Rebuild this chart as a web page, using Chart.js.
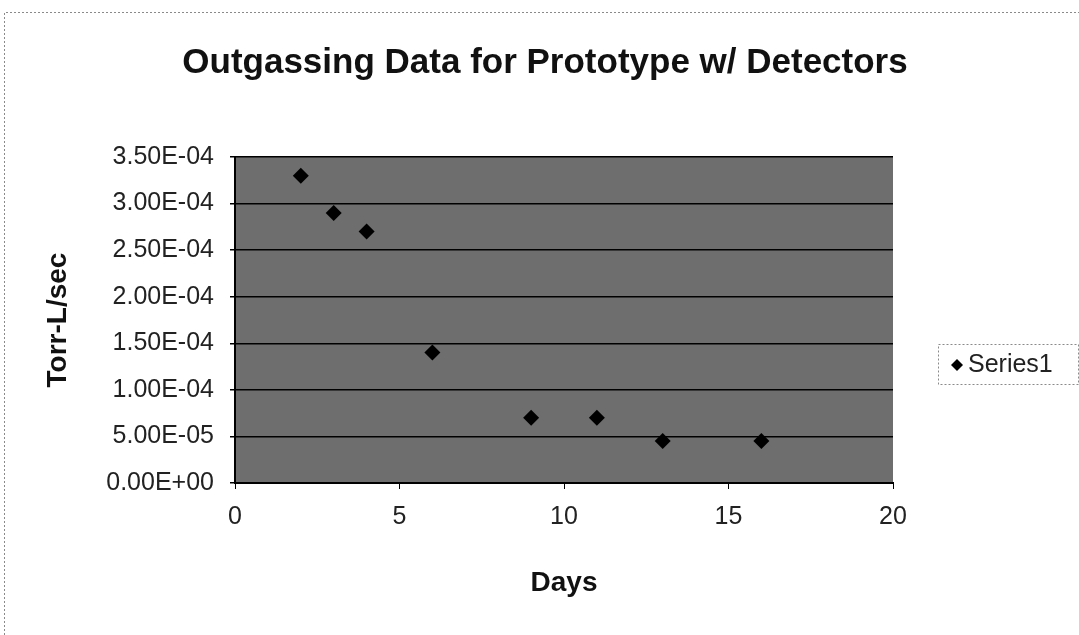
<!DOCTYPE html>
<html>
<head>
<meta charset="utf-8">
<script src="https://cdn.jsdelivr.net/npm/chart.js@4.4.1/dist/chart.umd.min.js"></script>
<style>
  html, body { margin: 0; padding: 0; background: #fff; }
  #wrap { width: 1079px; height: 635px; position: relative; }
  canvas { display: block; }
</style>
</head>
<body>
<div id="wrap"><canvas id="c" width="1079" height="635"></canvas></div>
<script>
// ---- data ----
const chartTitle = "Outgassing Data for Prototype w/ Detectors";
const seriesName = "Series1";
const days = [2, 3, 4, 6, 9, 11, 13, 16];
const torrLperSec = [3.3e-4, 2.9e-4, 2.7e-4, 1.4e-4, 7.0e-5, 7.0e-5, 4.5e-5, 4.5e-5];
const yTickValues = [0, 5e-5, 1e-4, 1.5e-4, 2e-4, 2.5e-4, 3e-4, 3.5e-4];
const yTickLabels = ["0.00E+00", "5.00E-05", "1.00E-04", "1.50E-04", "2.00E-04", "2.50E-04", "3.00E-04", "3.50E-04"];
const xTickValues = [0, 5, 10, 15, 20];
const xTickLabels = ["0", "5", "10", "15", "20"];
const xTitle = "Days";
const yTitle = "Torr-L/sec";

const FONT = "'Liberation Sans', Arial, sans-serif";

const decor = {
  id: 'decor',
  beforeDraw(chart) {
    const {ctx, chartArea: a} = chart;
    ctx.save();
    ctx.fillStyle = '#6e6e6e';
    ctx.fillRect(a.left, a.top, a.right - a.left, a.bottom - a.top);
    ctx.restore();
  },
  afterDraw(chart) {
    const ctx = chart.ctx;
    ctx.save();
    // outer dotted border (top & left)
    ctx.strokeStyle = '#8a8a8a';
    ctx.lineWidth = 1;
    ctx.setLineDash([2, 2]);
    ctx.beginPath();
    ctx.moveTo(4.5, 635); ctx.lineTo(4.5, 12.5); ctx.lineTo(1079, 12.5);
    ctx.stroke();
    // legend box
    ctx.strokeRect(938.5, 344.5, 140, 40);
    ctx.setLineDash([]);
    // title
    ctx.fillStyle = '#111';
    ctx.font = "bold 35px " + FONT;
    ctx.textAlign = 'center';
    ctx.textBaseline = 'middle';
    ctx.fillText(chartTitle, 545, 63);
    // legend
    ctx.fillStyle = '#000';
    ctx.beginPath();
    const cx = 957, cy = 365, r = 6;
    ctx.moveTo(cx, cy - r); ctx.lineTo(cx + r, cy); ctx.lineTo(cx, cy + r); ctx.lineTo(cx - r, cy); ctx.closePath();
    ctx.fill();
    ctx.fillStyle = '#222';
    ctx.font = "25px " + FONT;
    ctx.textAlign = 'left';
    ctx.fillText(chart.data.datasets[0].label, 968, 365);
    ctx.restore();
  }
};

new Chart(document.getElementById('c'), {
  type: 'scatter',
  data: {
    datasets: [{
      label: seriesName,
      data: days.map((d, i) => ({x: d, y: torrLperSec[i]})),
      pointStyle: 'rectRot',
      pointRadius: 8,
      pointHoverRadius: 8,
      backgroundColor: '#000',
      borderColor: '#000',
      borderWidth: 0
    }]
  },
  options: {
    responsive: false,
    animation: false,
    devicePixelRatio: 1,
    layout: { padding: { top: 157, right: 186, bottom: 0, left: 0 } },
    plugins: {
      legend: { display: false },
      title: { display: false },
      tooltip: { enabled: false }
    },
    scales: {
      x: {
        type: 'linear',
        min: 0, max: 20,
        afterFit(s) { s.height = 152; },
        afterBuildTicks(s) { s.ticks = xTickValues.map(v => ({value: v})); },
        ticks: {
          callback: (v, i) => xTickLabels[i],
          font: { family: FONT, size: 25 },
          color: '#222',
          padding: 13,
          maxRotation: 0
        },
        grid: { drawOnChartArea: false, tickColor: '#000', tickLength: 6, tickWidth: 1 },
        border: { color: '#000', width: 2 },
        title: {
          display: true, text: xTitle,
          font: { family: FONT, size: 28, weight: 'bold' },
          color: '#111',
          padding: { top: 0, bottom: 35 }
        }
      },
      y: {
        type: 'linear',
        min: 0, max: 3.5e-4,
        afterFit(s) { s.width = 235; },
        afterBuildTicks(s) { s.ticks = yTickValues.map(v => ({value: v})); },
        ticks: {
          callback: (v, i) => yTickLabels[i],
          font: { family: FONT, size: 25 },
          color: '#222',
          padding: 16
        },
        grid: { color: '#000', lineWidth: 1.5, tickColor: '#000', tickLength: 5 },
        border: { color: '#000', width: 2 },
        title: {
          display: true, text: yTitle,
          font: { family: FONT, size: 28, weight: 'bold' },
          color: '#111',
          padding: { top: 41, bottom: 0 }
        }
      }
    }
  },
  plugins: [decor]
});
</script>
</body>
</html>
